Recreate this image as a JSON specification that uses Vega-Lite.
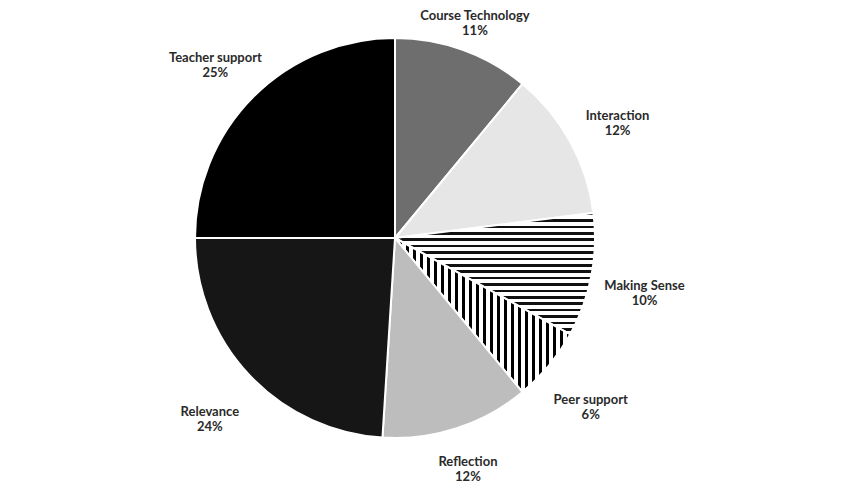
{
  "$schema": "https://vega.github.io/schema/vega-lite/v6.json",
  "width": 845,
  "height": 484,
  "autosize": {"type": "fit", "contains": "padding"},
  "padding": {"left": 0, "right": 55, "top": 0, "bottom": 4},
  "background": "white",
  "view": {"stroke": null},
  "data": {
    "values": [
      {"category": "Course Technology", "value": 11, "order": 1, "label": "Course Technology\n11%"},
      {"category": "Interaction", "value": 12, "order": 2, "label": "Interaction\n12%"},
      {"category": "Making Sense", "value": 10, "order": 3, "label": "Making Sense\n10%"},
      {"category": "Peer support", "value": 6, "order": 4, "label": "Peer support\n6%"},
      {"category": "Reflection", "value": 12, "order": 5, "label": "Reflection\n12%"},
      {"category": "Relevance", "value": 24, "order": 6, "label": "Relevance\n24%"},
      {"category": "Teacher support", "value": 25, "order": 7, "label": "Teacher support\n25%"}
    ]
  },
  "encoding": {
    "theta": {"field": "value", "type": "quantitative", "stack": true},
    "order": {"field": "order", "type": "quantitative"}
  },
  "layer": [
    {
      "mark": {"type": "arc", "outerRadius": 200, "stroke": "white", "strokeWidth": 2},
      "encoding": {
        "fill": {
          "condition": [
            {
              "test": "datum.category === 'Making Sense'",
              "value": {
                "gradient": "linear", "x1": 0, "y1": 0, "x2": 0, "y2": 1,
                "stops": [
                  {"offset": 0.0, "color": "#111"}, {"offset": 0.021, "color": "#111"}, {"offset": 0.021, "color": "#fff"}, {"offset": 0.0526, "color": "#fff"},
                  {"offset": 0.0526, "color": "#111"}, {"offset": 0.0737, "color": "#111"}, {"offset": 0.0737, "color": "#fff"}, {"offset": 0.1053, "color": "#fff"},
                  {"offset": 0.1053, "color": "#111"}, {"offset": 0.1263, "color": "#111"}, {"offset": 0.1263, "color": "#fff"}, {"offset": 0.1579, "color": "#fff"},
                  {"offset": 0.1579, "color": "#111"}, {"offset": 0.1789, "color": "#111"}, {"offset": 0.1789, "color": "#fff"}, {"offset": 0.2105, "color": "#fff"},
                  {"offset": 0.2105, "color": "#111"}, {"offset": 0.2316, "color": "#111"}, {"offset": 0.2316, "color": "#fff"}, {"offset": 0.2632, "color": "#fff"},
                  {"offset": 0.2632, "color": "#111"}, {"offset": 0.2842, "color": "#111"}, {"offset": 0.2842, "color": "#fff"}, {"offset": 0.3158, "color": "#fff"},
                  {"offset": 0.3158, "color": "#111"}, {"offset": 0.3368, "color": "#111"}, {"offset": 0.3368, "color": "#fff"}, {"offset": 0.3684, "color": "#fff"},
                  {"offset": 0.3684, "color": "#111"}, {"offset": 0.3895, "color": "#111"}, {"offset": 0.3895, "color": "#fff"}, {"offset": 0.4211, "color": "#fff"},
                  {"offset": 0.4211, "color": "#111"}, {"offset": 0.4421, "color": "#111"}, {"offset": 0.4421, "color": "#fff"}, {"offset": 0.4737, "color": "#fff"},
                  {"offset": 0.4737, "color": "#111"}, {"offset": 0.4947, "color": "#111"}, {"offset": 0.4947, "color": "#fff"}, {"offset": 0.5263, "color": "#fff"},
                  {"offset": 0.5263, "color": "#111"}, {"offset": 0.5474, "color": "#111"}, {"offset": 0.5474, "color": "#fff"}, {"offset": 0.5789, "color": "#fff"},
                  {"offset": 0.5789, "color": "#111"}, {"offset": 0.6, "color": "#111"}, {"offset": 0.6, "color": "#fff"}, {"offset": 0.6316, "color": "#fff"},
                  {"offset": 0.6316, "color": "#111"}, {"offset": 0.6526, "color": "#111"}, {"offset": 0.6526, "color": "#fff"}, {"offset": 0.6842, "color": "#fff"},
                  {"offset": 0.6842, "color": "#111"}, {"offset": 0.7053, "color": "#111"}, {"offset": 0.7053, "color": "#fff"}, {"offset": 0.7368, "color": "#fff"},
                  {"offset": 0.7368, "color": "#111"}, {"offset": 0.7579, "color": "#111"}, {"offset": 0.7579, "color": "#fff"}, {"offset": 0.7895, "color": "#fff"},
                  {"offset": 0.7895, "color": "#111"}, {"offset": 0.8105, "color": "#111"}, {"offset": 0.8105, "color": "#fff"}, {"offset": 0.8421, "color": "#fff"},
                  {"offset": 0.8421, "color": "#111"}, {"offset": 0.8632, "color": "#111"}, {"offset": 0.8632, "color": "#fff"}, {"offset": 0.8947, "color": "#fff"},
                  {"offset": 0.8947, "color": "#111"}, {"offset": 0.9158, "color": "#111"}, {"offset": 0.9158, "color": "#fff"}, {"offset": 0.9474, "color": "#fff"},
                  {"offset": 0.9474, "color": "#111"}, {"offset": 0.9684, "color": "#111"}, {"offset": 0.9684, "color": "#fff"}, {"offset": 1.0, "color": "#fff"}
                ]
              }
            },
            {
              "test": "datum.category === 'Peer support'",
              "value": {
                "gradient": "linear", "x1": 0, "y1": 0, "x2": 1, "y2": 0,
                "stops": [
                  {"offset": 0.0, "color": "#fff"}, {"offset": 0.02, "color": "#fff"}, {"offset": 0.02, "color": "#000"}, {"offset": 0.04, "color": "#000"},
                  {"offset": 0.04, "color": "#fff"}, {"offset": 0.06, "color": "#fff"}, {"offset": 0.06, "color": "#000"}, {"offset": 0.08, "color": "#000"},
                  {"offset": 0.08, "color": "#fff"}, {"offset": 0.10, "color": "#fff"}, {"offset": 0.10, "color": "#000"}, {"offset": 0.12, "color": "#000"},
                  {"offset": 0.12, "color": "#fff"}, {"offset": 0.14, "color": "#fff"}, {"offset": 0.14, "color": "#000"}, {"offset": 0.16, "color": "#000"},
                  {"offset": 0.16, "color": "#fff"}, {"offset": 0.18, "color": "#fff"}, {"offset": 0.18, "color": "#000"}, {"offset": 0.20, "color": "#000"},
                  {"offset": 0.20, "color": "#fff"}, {"offset": 0.22, "color": "#fff"}, {"offset": 0.22, "color": "#000"}, {"offset": 0.24, "color": "#000"},
                  {"offset": 0.24, "color": "#fff"}, {"offset": 0.26, "color": "#fff"}, {"offset": 0.26, "color": "#000"}, {"offset": 0.28, "color": "#000"},
                  {"offset": 0.28, "color": "#fff"}, {"offset": 0.30, "color": "#fff"}, {"offset": 0.30, "color": "#000"}, {"offset": 0.32, "color": "#000"},
                  {"offset": 0.32, "color": "#fff"}, {"offset": 0.34, "color": "#fff"}, {"offset": 0.34, "color": "#000"}, {"offset": 0.36, "color": "#000"},
                  {"offset": 0.36, "color": "#fff"}, {"offset": 0.38, "color": "#fff"}, {"offset": 0.38, "color": "#000"}, {"offset": 0.40, "color": "#000"},
                  {"offset": 0.40, "color": "#fff"}, {"offset": 0.42, "color": "#fff"}, {"offset": 0.42, "color": "#000"}, {"offset": 0.44, "color": "#000"},
                  {"offset": 0.44, "color": "#fff"}, {"offset": 0.46, "color": "#fff"}, {"offset": 0.46, "color": "#000"}, {"offset": 0.48, "color": "#000"},
                  {"offset": 0.48, "color": "#fff"}, {"offset": 0.50, "color": "#fff"}, {"offset": 0.50, "color": "#000"}, {"offset": 0.52, "color": "#000"},
                  {"offset": 0.52, "color": "#fff"}, {"offset": 0.54, "color": "#fff"}, {"offset": 0.54, "color": "#000"}, {"offset": 0.56, "color": "#000"},
                  {"offset": 0.56, "color": "#fff"}, {"offset": 0.58, "color": "#fff"}, {"offset": 0.58, "color": "#000"}, {"offset": 0.60, "color": "#000"},
                  {"offset": 0.60, "color": "#fff"}, {"offset": 0.62, "color": "#fff"}, {"offset": 0.62, "color": "#000"}, {"offset": 0.64, "color": "#000"},
                  {"offset": 0.64, "color": "#fff"}, {"offset": 0.66, "color": "#fff"}, {"offset": 0.66, "color": "#000"}, {"offset": 0.68, "color": "#000"},
                  {"offset": 0.68, "color": "#fff"}, {"offset": 0.70, "color": "#fff"}, {"offset": 0.70, "color": "#000"}, {"offset": 0.72, "color": "#000"},
                  {"offset": 0.72, "color": "#fff"}, {"offset": 0.74, "color": "#fff"}, {"offset": 0.74, "color": "#000"}, {"offset": 0.76, "color": "#000"},
                  {"offset": 0.76, "color": "#fff"}, {"offset": 0.78, "color": "#fff"}, {"offset": 0.78, "color": "#000"}, {"offset": 0.80, "color": "#000"},
                  {"offset": 0.80, "color": "#fff"}, {"offset": 0.82, "color": "#fff"}, {"offset": 0.82, "color": "#000"}, {"offset": 0.84, "color": "#000"},
                  {"offset": 0.84, "color": "#fff"}, {"offset": 0.86, "color": "#fff"}, {"offset": 0.86, "color": "#000"}, {"offset": 0.88, "color": "#000"},
                  {"offset": 0.88, "color": "#fff"}, {"offset": 0.90, "color": "#fff"}, {"offset": 0.90, "color": "#000"}, {"offset": 0.92, "color": "#000"},
                  {"offset": 0.92, "color": "#fff"}, {"offset": 0.94, "color": "#fff"}, {"offset": 0.94, "color": "#000"}, {"offset": 0.96, "color": "#000"},
                  {"offset": 0.96, "color": "#fff"}, {"offset": 0.98, "color": "#fff"}, {"offset": 0.98, "color": "#000"}, {"offset": 1.0, "color": "#000"}
                ]
              }
            }
          ],
          "field": "category",
          "type": "nominal",
          "scale": {
            "domain": ["Course Technology", "Interaction", "Making Sense", "Peer support", "Reflection", "Relevance", "Teacher support"],
            "range": ["#6e6e6e", "#e6e6e6", "#9a9a9a", "#6a6a6a", "#bdbdbd", "#161616", "#000000"]
          },
          "legend": null
        }
      }
    },
    {
      "mark": {"type": "text", "radius": 236, "align": "center", "lineBreak": "\n", "font": "Lato", "fontWeight": "bold", "fontSize": 13, "color": "#2a2a2a", "lineHeight": 15},
      "encoding": {
        "text": {
          "condition": {"test": "datum.category === 'Course Technology' || datum.category === 'Reflection'", "field": "label", "type": "nominal"},
          "value": ""
        }
      }
    },
    {
      "mark": {"type": "text", "radius": 254, "align": "center", "lineBreak": "\n", "font": "Lato", "fontWeight": "bold", "fontSize": 13, "color": "#2a2a2a", "lineHeight": 15},
      "encoding": {
        "text": {
          "condition": {"test": "datum.category !== 'Course Technology' && datum.category !== 'Reflection'", "field": "label", "type": "nominal"},
          "value": ""
        }
      }
    }
  ]
}
